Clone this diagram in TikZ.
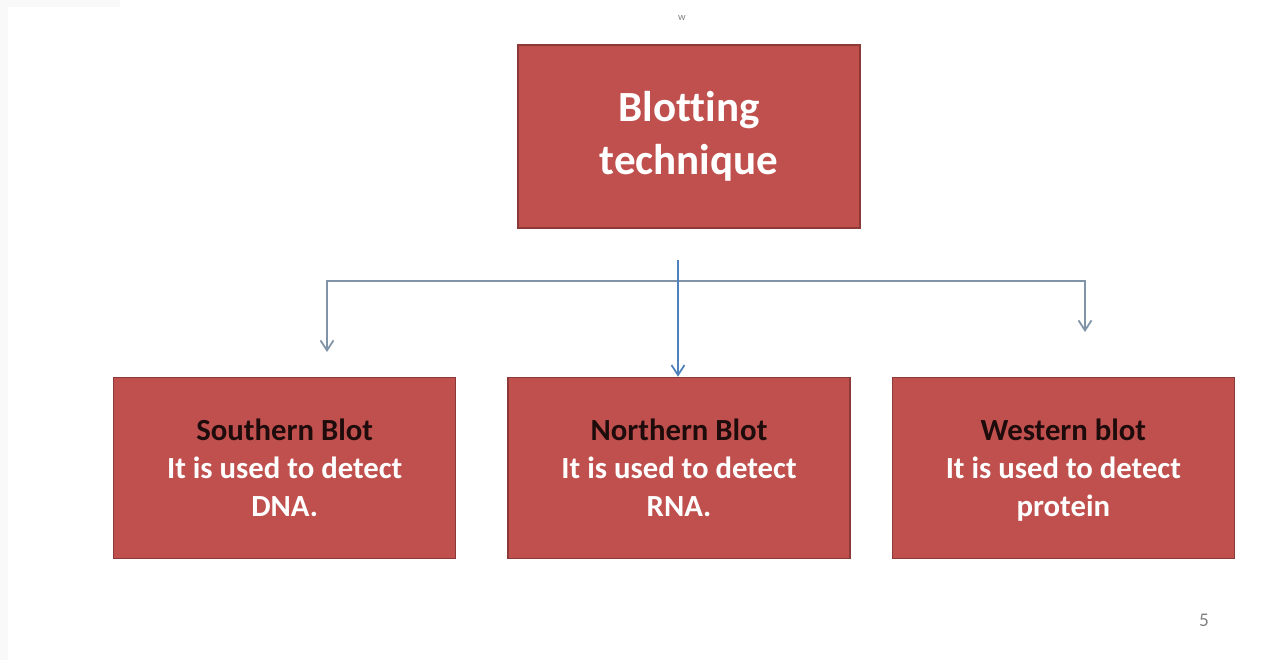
\documentclass[tikz,border=0pt]{standalone}
\usepackage{fontspec}
\setmainfont{Carlito}[Ligatures=NoCommon]
\usepackage{xcolor}
\usetikzlibrary{arrows.meta, positioning}

\definecolor{blotred}{HTML}{C0504D}
\definecolor{blotedge}{HTML}{8C3A38}
\definecolor{titledark}{HTML}{1E0C0C}
\definecolor{linkblue}{HTML}{4F81BD}
\definecolor{linkgray}{HTML}{8094A8}

\begin{document}
\begin{tikzpicture}[
    x=0.02cm, y=-0.02cm,
    node distance = 2.96cm and 1.02cm,
    blot/.style   = {rectangle, draw=blotedge, line width=0.8pt, fill=blotred,
                     minimum width=6.84cm, minimum height=3.62cm, align=center,
                     text=white, font=\fontsize{17.5}{21.6}\selectfont\bfseries},
    head/.style   = {font=\fontsize{24.5}{30}\selectfont\bfseries},
    barb/.tip     = {Straight Barb[length=2mm, width=2.6mm]},
    link/.style   = {line width=1pt, -barb},
  ]
  \useasboundingbox (0,0) rectangle (1264,660);
  \fill[gray!5] (0,0) rectangle (8,660);
  \fill[gray!5] (0,0) rectangle (120,7);

  \node[blot, head, minimum height=3.66cm] (root) at (689,136.5)
        {Blotting\\technique};

  \node[blot, below=of root, xshift=-0.2cm] (northern)
        {\textcolor{titledark}{Northern Blot}\\It is used to detect\\RNA.};
  \node[blot, left=of northern] (southern)
        {\textcolor{titledark}{Southern Blot}\\It is used to detect\\DNA.};
  \node[blot, right=0.82cm of northern] (western)
        {\textcolor{titledark}{Western blot}\\It is used to detect\\\raisebox{0pt}[\height][0pt]{protein}};

  \node[text=gray, font=\fontsize{6}{7}\selectfont] (mark) at (682,18) {w};
  \node[text=gray, font=\fontsize{11}{13}\selectfont] (page) at (1204,620) {5};

  \coordinate (split) at (678,260);
  \coordinate (barL)  at (327,281);
  \coordinate (barR)  at (1085,281);
  \coordinate (tipL)  at (327,352);
  \coordinate (tipR)  at (1085,332);

  \draw[link, linkgray, barb-barb] (tipL) -- (barL) -- (barR) -- (tipR);
  \draw[link, linkblue] (split) -- (split |- northern.north);
\end{tikzpicture}
\end{document}
